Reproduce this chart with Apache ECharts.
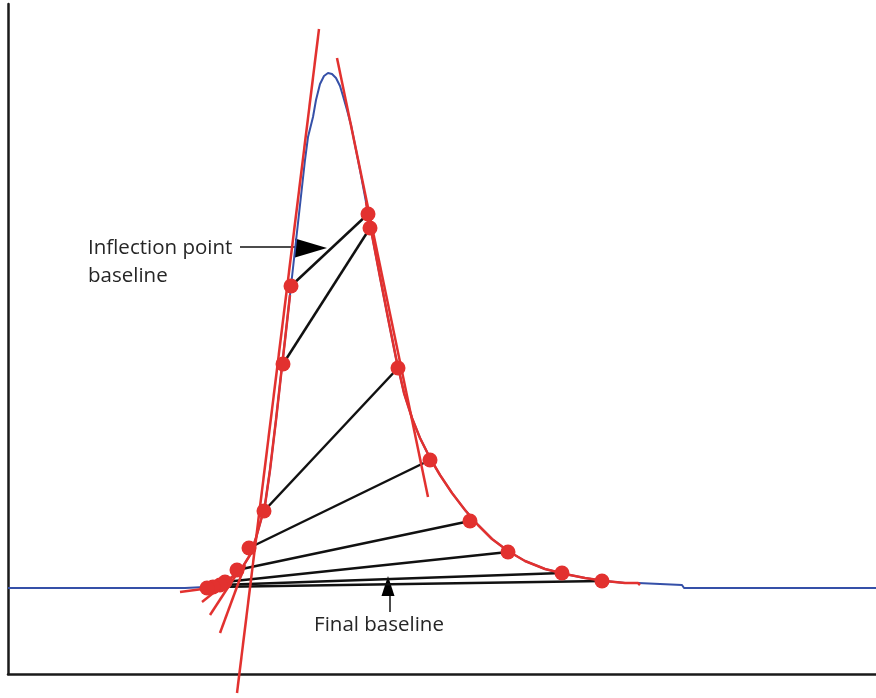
<!DOCTYPE html>
<html><head><meta charset="utf-8">
<script src="https://cdn.jsdelivr.net/npm/echarts@6/dist/echarts.min.js"></script>
<style>html,body{margin:0;padding:0;background:#fff}#c{width:876px;height:698px}</style>
</head><body><div id="c"></div>
<script>
// Chromatogram signal (time units, signal units)
const signalX = [0,142,177,197,212,224,234,242,248,253,257,262,268,273,277,282,287,292,297,300,305,308,312,316,320,324,328,332,335,339,343,347,352,358,364,372,380,388,396,404,412,422,432,444,457,470,484,500,517,537,557,577,597,617,630,632,674,676,868];
const signalY = [86,86,86,87,90,97,106,119,136,154,169,204,254,299,334,379,424,469,514,537,557,574,590,598,601,600,596,588,578,564,549,529,504,472,439,397,356,316,281,256,236,216,199,181,164,149,135,123,113,105,100,96,93,91,91,89,89,86,86];
// Range of the fitted (red) trace on each flank
const fitLeftRange = [197, 282];
const fitRightRange = [358, 632];
// Tangent lines [x1,y1,x2,y2]
const tangents = [
  [311,645,229,-19],
  [329,616,420,177],
  [224,96,194,72],
  [230,102,202,59],
  [237,109,212,41],
  [217,88,172,82]
];
// Detected points (red dots)
const pointsX = [283,275,256,241,229,217,212,205,199,360,362,390,422,462,500,554,594];
const pointsY = [388,310,163,126,104,92,89,87,86,460,446,306,214,153,122,101,93];
// Candidate baselines: left point -> right point
const baseLeft  = [[283,388],[275,310],[256,163],[241,126],[229,104],[217,92],[212,89],[205,87]];
const baseRight = [[360,460],[362,446],[390,306],[422,214],[462,153],[500,122],[554,101],[594,93]];
// Annotations
const annoInflection = {text:['Inflection point','baseline'], textAt:[80,426], tail:[232,427], tip:[319,426]};
const annoFinal = {text:'Final baseline', textAt:[371,49], tail:[382,62], tip:[380,98]};

const chart = echarts.init(document.getElementById('c'), null, {renderer:'canvas'});
const RED = '#e2312f', BLUE = '#3550a8', BLACK = '#111111';
const signal = signalX.map((x,i)=>[x, signalY[i]]);
const series = [];
series.push({type:'line', data:signal, showSymbol:false, symbol:'none', lineStyle:{color:BLUE, width:2}, z:2, silent:true});
baseLeft.forEach((l,i)=>{
  series.push({type:'line', data:[l, baseRight[i]], symbol:'none', lineStyle:{color:BLACK, width:2.5}, z:3, silent:true});
});
[fitLeftRange, fitRightRange].forEach(r=>{
  series.push({type:'line', data:signal.filter(p=>p[0]>=r[0] && p[0]<=r[1]), symbol:'none', lineStyle:{color:RED, width:2.5}, z:4, silent:true});
});
tangents.forEach(t=>{
  series.push({type:'line', data:[[t[0],t[1]],[t[2],t[3]]], symbol:'none', clip:false, lineStyle:{color:RED, width:2.5}, z:4, silent:true});
});
series.push({type:'scatter', data:pointsX.map((x,i)=>[x,pointsY[i]]), symbolSize:15, itemStyle:{color:RED, opacity:1}, z:5, silent:true});

chart.setOption({
  animation:false,
  backgroundColor:'#ffffff',
  grid:{left:8, right:0, top:4, bottom:24},
  xAxis:{type:'value', min:0, max:868, axisLine:{show:true, onZero:false, lineStyle:{color:'#1a1a1a', width:2.5}}, axisTick:{show:false}, axisLabel:{show:false}, splitLine:{show:false}},
  yAxis:{type:'value', min:0, max:670, axisLine:{show:true, onZero:false, lineStyle:{color:'#1a1a1a', width:2.5}}, axisTick:{show:false}, axisLabel:{show:false}, splitLine:{show:false}},
  series:series
});

const px = p => chart.convertToPixel({gridIndex:0}, p);
const font = {fontSize:20.5, fontFamily:'Open Sans', fill:'#262626'};
const g = [];
{
  const t = px(annoInflection.textAt), a = px(annoInflection.tail), b = px(annoInflection.tip);
  g.push({type:'text', style:Object.assign({text:annoInflection.text[0], x:t[0], y:t[1], align:'left', verticalAlign:'middle'}, font)});
  g.push({type:'text', style:Object.assign({text:annoInflection.text[1], x:t[0], y:t[1]+28, align:'left', verticalAlign:'middle'}, font)});
  g.push({type:'line', shape:{x1:a[0], y1:a[1], x2:b[0]-30, y2:a[1]}, style:{stroke:'#111', lineWidth:1.5}});
  g.push({type:'polygon', shape:{points:[[b[0]-32,b[1]-9.5],[b[0]-32,b[1]+9.5],[b[0],b[1]]]}, style:{fill:'#000'}});
}
{
  const t = px(annoFinal.textAt), a = px(annoFinal.tail), b = px(annoFinal.tip);
  g.push({type:'text', style:Object.assign({text:annoFinal.text, x:t[0], y:t[1], align:'center', verticalAlign:'middle'}, font)});
  g.push({type:'line', shape:{x1:a[0], y1:a[1], x2:a[0], y2:b[1]+18}, style:{stroke:'#111', lineWidth:1.5}});
  g.push({type:'polygon', shape:{points:[[b[0]-6.5,b[1]+20],[b[0]+6.5,b[1]+20],[b[0],b[1]]]}, style:{fill:'#000'}});
}
chart.setOption({graphic:g});
</script></body></html>
